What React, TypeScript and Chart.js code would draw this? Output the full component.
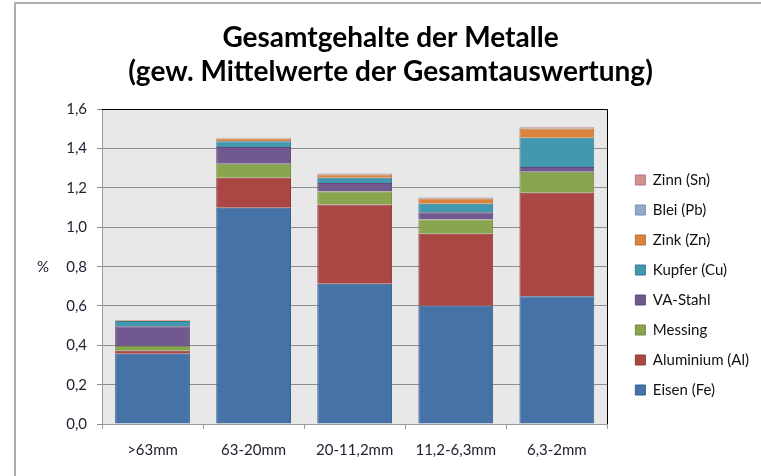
import React, { useEffect, useRef } from "react";
import { Chart, registerables } from "chart.js";

Chart.register(...registerables);

const categories = [">63mm", "63-20mm", "20-11,2mm", "11,2-6,3mm", "6,3-2mm"];
const eisen = [0.357, 1.099, 0.713, 0.601, 0.649];
const aluminium = [0.015, 0.153, 0.403, 0.366, 0.527];
const messing = [0.025, 0.071, 0.066, 0.073, 0.107];
const vaStahl = [0.1, 0.085, 0.044, 0.037, 0.024];
const kupfer = [0.027, 0.03, 0.026, 0.043, 0.149];
const zink = [0.003, 0.013, 0.017, 0.026, 0.046];
const blei = [0.001, 0.002, 0.003, 0.004, 0.004];
const zinn = [0.001, 0.002, 0.003, 0.003, 0.004];
const yTicks = [0, 0.2, 0.4, 0.6, 0.8, 1.0, 1.2, 1.4, 1.6];

const FONT = "Lato, 'Open Sans', sans-serif";

const seriesDefs = [
  { label: "Eisen (Fe)", data: eisen, color: "#4572A7", border: "#3A5F8C" },
  { label: "Aluminium (Al)", data: aluminium, color: "#AA4643", border: "#8E3A38" },
  { label: "Messing", data: messing, color: "#89A54E", border: "#728A41" },
  { label: "VA-Stahl", data: vaStahl, color: "#71588F", border: "#5E4977" },
  { label: "Kupfer (Cu)", data: kupfer, color: "#4198AF", border: "#367F92" },
  { label: "Zink (Zn)", data: zink, color: "#DB843D", border: "#B76E33" },
  { label: "Blei (Pb)", data: blei, color: "#93A9CF", border: "#7B8DAD" },
  { label: "Zinn (Sn)", data: zinn, color: "#D19392", border: "#AF7B7A" },
];

const decorPlugin = {
  id: "decor",
  afterLayout(chart: any) {
    const lg = chart.legend;
    const a = chart.chartArea;
    if (lg && a) {
      const dx = a.right + 13 - lg.left;
      lg.left += dx;
      lg.right += dx;
      const dy = 47;
      lg.top += dy;
      lg.bottom += dy;
    }
  },
  beforeDraw(chart: any) {
    const { ctx, chartArea: a } = chart;
    ctx.save();
    ctx.fillStyle = "#ffffff";
    ctx.fillRect(0, 0, chart.width, chart.height);
    ctx.strokeStyle = "#ADADAD";
    ctx.lineWidth = 2;
    ctx.strokeRect(15, 3, chart.width + 20, chart.height + 20);
    ctx.fillStyle = "#E8E8E8";
    ctx.fillRect(a.left, a.top, a.right - a.left, a.bottom - a.top);
    ctx.restore();
  },
  afterDraw(chart: any) {
    const { ctx, chartArea: a } = chart;
    ctx.save();
    ctx.strokeStyle = "#000000";
    ctx.lineWidth = 1;
    ctx.beginPath();
    ctx.moveTo(a.left, Math.round(a.top) + 0.5);
    ctx.lineTo(Math.round(a.right) + 0.5, Math.round(a.top) + 0.5);
    ctx.lineTo(Math.round(a.right) + 0.5, a.bottom);
    ctx.stroke();
    ctx.fillStyle = "#222233";
    ctx.font = `15px ${FONT}`;
    ctx.textAlign = "center";
    ctx.textBaseline = "middle";
    ctx.fillText("%", a.left - 59, (a.top + a.bottom) / 2);
    ctx.restore();
  },
};

export default function App() {
  const ref = useRef<HTMLCanvasElement | null>(null);
  useEffect(() => {
    document.body.style.margin = "0";
    const canvas = ref.current;
    if (!canvas) return;
    const chart = new Chart(canvas, {
      type: "bar",
      data: {
        labels: categories,
        datasets: seriesDefs.map((s) => ({
          label: s.label,
          data: s.data,
          backgroundColor: s.color,
          borderColor: s.border,
          borderWidth: 1,
          barPercentage: 0.74,
          categoryPercentage: 1,
        })),
      },
      options: {
        animation: false,
        responsive: false,
        maintainAspectRatio: false,
        layout: { padding: { left: 35, right: 15, top: 0, bottom: 0 } },
        plugins: {
          title: {
            display: true,
            text: ["Gesamtgehalte der Metalle", "(gew. Mittelwerte der Gesamtauswertung)"],
            color: "#000000",
            font: { family: FONT, size: 28, weight: "bold", lineHeight: 1.22 },
            padding: { top: 21, bottom: 20 },
          },
          legend: {
            position: "right",
            reverse: true,
            labels: {
              color: "#111111",
              font: { family: FONT, size: 15 },
              boxWidth: 10,
              boxHeight: 10,
              padding: 15,
            },
          },
          tooltip: { enabled: false },
        },
        scales: {
          x: {
            stacked: true,
            offset: true,
            grid: {
              offset: true,
              drawOnChartArea: false,
              drawTicks: true,
              tickLength: 5,
              color: "#9A9A9A",
            },
            border: { color: "#9A9A9A" },
            ticks: { color: "#222233", font: { family: FONT, size: 15 }, padding: 12 },
            afterFit(scale: any) {
              scale.height = 52;
            },
          },
          y: {
            stacked: true,
            min: 0,
            max: 1.6,
            afterBuildTicks(scale: any) {
              scale.ticks = yTicks.map((v) => ({ value: v }));
            },
            grid: { color: "#8E8E8E", tickLength: 5 },
            border: { color: "#9A9A9A" },
            ticks: {
              color: "#222233",
              font: { family: FONT, size: 15 },
              padding: 10,
              callback: (v: any) => Number(v).toFixed(1).replace(".", ","),
            },
            afterFit(scale: any) {
              scale.width = 67;
            },
          },
        },
      },
      plugins: [decorPlugin],
    });
    return () => chart.destroy();
  }, []);
  return (
    <div style={{ position: "absolute", left: 0, top: 0, width: 761, height: 476 }}>
      <canvas ref={ref} width={761} height={476} style={{ width: 761, height: 476, display: "block" }} />
    </div>
  );
}
